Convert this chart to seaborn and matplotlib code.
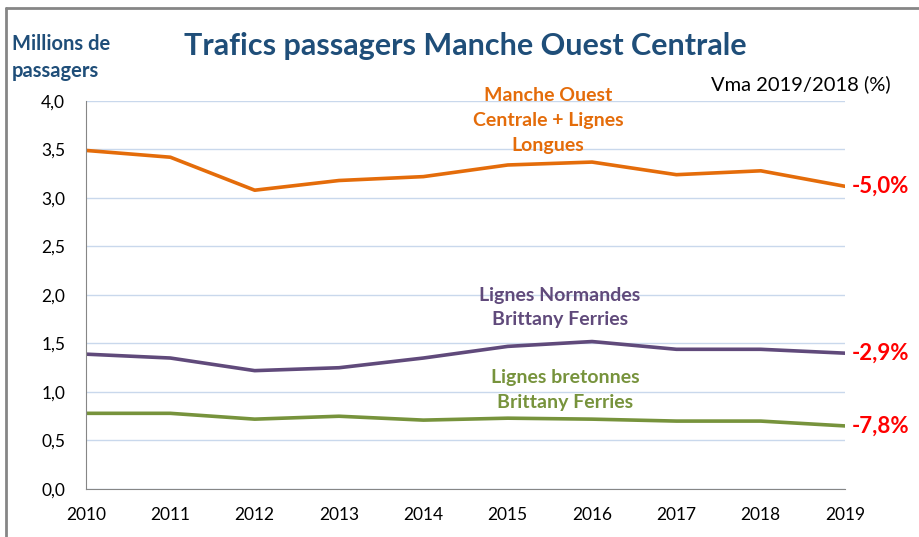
import numpy as np
import pandas as pd
import seaborn as sns
import matplotlib.pyplot as plt
from matplotlib.lines import Line2D

years = [2010, 2011, 2012, 2013, 2014, 2015, 2016, 2017, 2018, 2019]
moc_longues = [3.49, 3.42, 3.08, 3.18, 3.22, 3.34, 3.37, 3.24, 3.28, 3.12]
normandes = [1.39, 1.35, 1.22, 1.25, 1.35, 1.47, 1.52, 1.44, 1.44, 1.40]
bretonnes = [0.78, 0.78, 0.72, 0.75, 0.71, 0.73, 0.72, 0.70, 0.70, 0.65]
vma = ["-5,0%", "-2,9%", "-7,8%"]
labels = ["Manche Ouest\nCentrale + Lignes\nLongues",
          "Lignes Normandes\nBrittany Ferries",
          "Lignes bretonnes\nBrittany Ferries"]
colors = ["#E46C0A", "#604A7B", "#77933C"]

sns.set_style("white")
plt.rcParams['font.family'] = ['Lato', 'DejaVu Sans']

fig = plt.figure(figsize=(9.19, 5.37), dpi=100)
ax = fig.add_axes([0.0936, 0.0894, 0.826, 0.7226])

series = [moc_longues, normandes, bretonnes]
for vals, col in zip(series, colors):
    df = pd.DataFrame({"annee": years, "val": vals})
    sns.lineplot(data=df, x="annee", y="val", color=col, linewidth=2.6, ax=ax)

ax.set_xlim(2010, 2019)
ax.set_ylim(0, 4)
ax.set_yticks(np.arange(0, 4.01, 0.5))
ax.set_yticklabels([f"{v:.1f}".replace(".", ",") for v in np.arange(0, 4.01, 0.5)])
ax.set_xticks(years)
ax.set_xticklabels([str(y) for y in years])
ax.grid(axis="y", color="#C9D8EC", linewidth=1)
ax.set_axisbelow(True)
ax.set_xlabel("")
ax.set_ylabel("")
for s in ["top", "right"]:
    ax.spines[s].set_visible(False)
for s in ["left", "bottom"]:
    ax.spines[s].set_color("#868686")
ax.tick_params(axis="both", direction="out", length=5, color="#868686",
               labelsize=12.5, labelcolor="#000000")
ax.tick_params(axis="x", pad=8)
ax.tick_params(axis="y", pad=10)

# series labels
ax.text(2015.48, 3.80, labels[0], color=colors[0], fontsize=14, fontweight="bold",
        ha="center", va="center", linespacing=1.55)
ax.text(2015.62, 1.87, labels[1], color=colors[1], fontsize=14, fontweight="bold",
        ha="center", va="center", linespacing=1.55)
ax.text(2015.68, 1.02, labels[2], color=colors[2], fontsize=14, fontweight="bold",
        ha="center", va="center", linespacing=1.55)

# variation labels
for vals, txt in zip(series, vma):
    ax.text(2019.08, vals[-1], txt, color="#FF0000", fontsize=16, fontweight="bold",
            ha="left", va="center", clip_on=False)

fig.text(0.506, 0.915, "Trafics passagers Manche Ouest Centrale", color="#1F4E79",
         fontsize=22, fontweight="bold", ha="center", va="center")
fig.text(0.013, 0.893, "Millions de\npassagers", color="#1F4E79", fontsize=14.5,
         fontweight="bold", ha="left", va="center", linespacing=1.4)
fig.text(0.969, 0.843, "Vma 2019/2018 (%)", color="#000000", fontsize=14.5,
         ha="right", va="center")

# outer frame
fig.add_artist(Line2D([0.0065, 1.0], [0.985, 0.985], color="#868686", linewidth=2))
fig.add_artist(Line2D([0.0065, 0.0065], [0.0, 0.985], color="#868686", linewidth=2))

fig.savefig("out.png", dpi=100)
